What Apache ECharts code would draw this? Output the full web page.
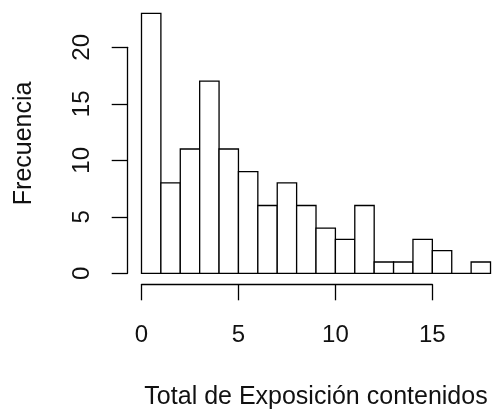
<!DOCTYPE html>
<html>
<head>
<meta charset="utf-8">
<script src="https://cdn.jsdelivr.net/npm/echarts@6/dist/echarts.min.js"></script>
<style>
html,body{margin:0;padding:0;background:#fff;}
#chart{width:493px;height:417px;}
</style>
</head>
<body>
<div id="chart"></div>
<script>
// Histogram data: bins of width 1 starting at binStarts
var binStarts = [0,1,2,3,4,5,6,7,8,9,10,11,12,13,14,15,16,17];
var counts    = [23,8,11,17,11,9,6,8,6,4,3,6,1,1,3,2,0,1];
var binWidth = 1;
var xTicks = [0,5,10,15];
var yTicks = [0,5,10,15,20];
var xTitle = 'Total de Exposición contenidos';
var yTitle = 'Frecuencia';

var FONT = 'Liberation Sans, Arial, sans-serif';
var unitX = 19.39, unitY = 11.3;
var x0 = 141.5, y0 = 273.3;
var xMaxPlot = 18, yMaxPlot = 23;

var chart = echarts.init(document.getElementById('chart'), null, {renderer:'canvas'});

var barData = binStarts.map(function(s,i){ return [s, s+binWidth, counts[i]]; });

var axisLineStyle = {color:'#000', width:1.3};

var option = {
  backgroundColor:'#fff',
  animation:false,
  grid:[
    {left:x0, top:y0 - yMaxPlot*unitY, width:xMaxPlot*unitX, height:yMaxPlot*unitY},
    {left:x0, top:284.3-10, width:(xTicks[xTicks.length-1]-xTicks[0])*unitX, height:10},
    {left:127.7, top:y0 - yTicks[yTicks.length-1]*unitY, width:10, height:(yTicks[yTicks.length-1]-yTicks[0])*unitY}
  ],
  xAxis:[
    {gridIndex:0, type:'value', min:0, max:xMaxPlot,
     axisLine:{show:false}, axisTick:{show:false}, axisLabel:{show:false}, splitLine:{show:false},
     name:xTitle, nameLocation:'middle', nameGap:111,
     nameTextStyle:{fontFamily:FONT, fontSize:25, color:'#111'}},
    {gridIndex:1, type:'value', min:xTicks[0], max:xTicks[xTicks.length-1], interval:5, position:'bottom',
     axisLine:{show:true, lineStyle:axisLineStyle},
     axisTick:{show:true, length:16, lineStyle:axisLineStyle},
     axisLabel:{show:true, margin:39, fontFamily:FONT, fontSize:24, color:'#111'},
     splitLine:{show:false}},
    {gridIndex:2, type:'value', show:false, min:0, max:1}
  ],
  yAxis:[
    {gridIndex:0, type:'value', min:0, max:yMaxPlot,
     axisLine:{show:false}, axisTick:{show:false}, axisLabel:{show:false}, splitLine:{show:false},
     name:yTitle, nameLocation:'middle', nameGap:105, nameRotate:90,
     nameTextStyle:{fontFamily:FONT, fontSize:25, color:'#111'}},
    {gridIndex:1, type:'value', show:false, min:0, max:1},
    {gridIndex:2, type:'value', min:yTicks[0], max:yTicks[yTicks.length-1], interval:5, position:'left',
     axisLine:{show:true, lineStyle:axisLineStyle},
     axisTick:{show:true, length:16, lineStyle:axisLineStyle},
     axisLabel:{show:true, rotate:90, margin:33, fontFamily:FONT, fontSize:24, color:'#111'},
     splitLine:{show:false}}
  ],
  series:[{
    type:'custom',
    xAxisIndex:0, yAxisIndex:0,
    data:barData,
    renderItem:function(params, api){
      var p0 = api.coord([api.value(0), 0]);
      var p1 = api.coord([api.value(1), api.value(2)]);
      return {
        type:'rect',
        shape:{x:p0[0], y:p1[1], width:p1[0]-p0[0], height:p0[1]-p1[1]},
        style:{fill:'#fff', stroke:'#000', lineWidth:1.3}
      };
    }
  }]
};
chart.setOption(option);
</script>
</body>
</html>
